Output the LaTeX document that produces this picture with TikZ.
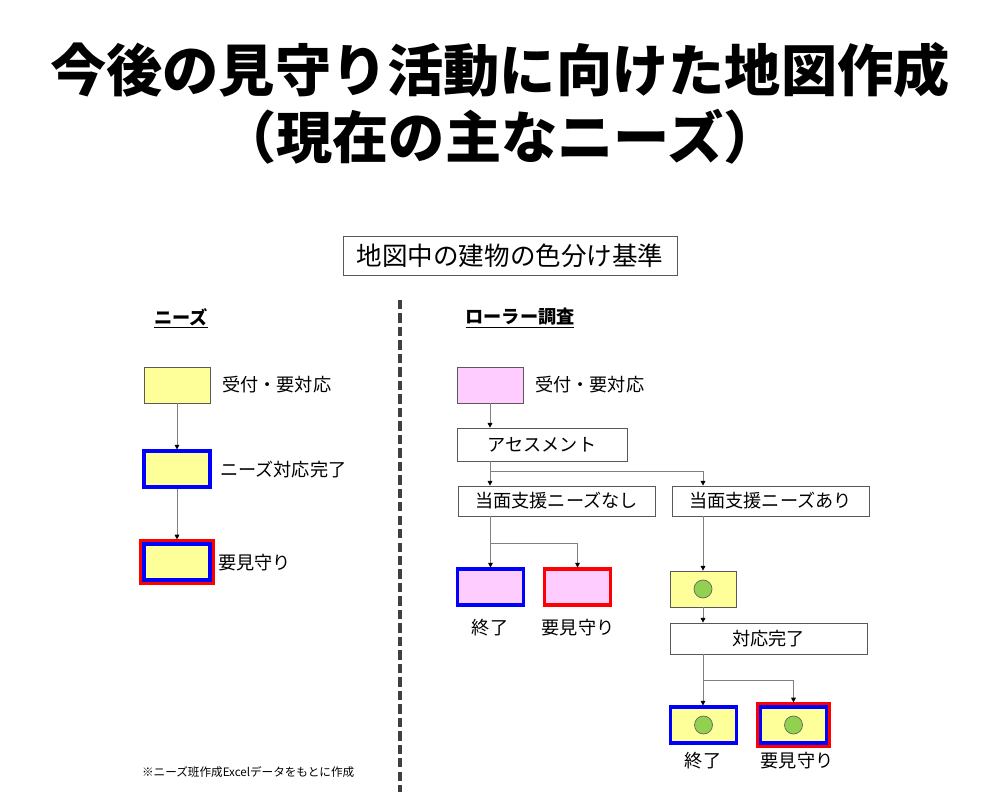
\documentclass[tikz,border=0pt]{standalone}
\usepackage{fontspec}
\setmainfont{Noto Sans CJK JP}
\usetikzlibrary{arrows.meta,positioning}

\definecolor{boxyellow}{RGB}{255,255,153}
\definecolor{boxpink}{RGB}{255,204,255}
\definecolor{dotgreen}{RGB}{146,208,80}
\newcommand{\lblfont}{\fontsize{15.5}{18}\selectfont}
\newcommand{\hdfont}{\fontsize{15.5}{18}\selectfont\bfseries}

\begin{document}
\begin{tikzpicture}[x=0.03cm, y=-0.03cm,
    box/.style={rectangle, draw=gray!70!black, line width=0.6pt, fill=#1, minimum width=1.98cm, minimum height=1.08cm, inner sep=0pt},
    done box/.style={box=#1, draw=blue, line width=2.6pt},
    watch box/.style={box=#1, draw=red, line width=2.6pt},
    watch done box/.style={box=#1, draw=blue, line width=2.6pt, preaction={draw=red, line width=7.8pt}, outer sep=3.9pt},
    stage box/.style={rectangle, draw=gray!70!black, line width=0.6pt, fill=white, minimum width=#1, inner sep=0pt, font=\lblfont},
    dot/.style={circle, draw=black!60, line width=0.6pt, fill=dotgreen, minimum size=0.54cm, inner sep=0pt},
    label text/.style={font=\lblfont, inner sep=0pt},
    arrow/.style={-{Triangle[length=4pt,width=4pt,color=black]}, gray, line width=0.7pt},
    split/.style={gray, line width=0.7pt}
]

\fill[white] (0,0) rectangle (1000,792);
\useasboundingbox (0,0) rectangle (1000,792);

% Title
\node[font=\fontsize{48}{56}\selectfont\bfseries] (title1) at (500,70) {今後の見守り活動に向けた地図作成};
\node[font=\fontsize{48}{56}\selectfont\bfseries] (title2) at (500,137) {（現在の主なニーズ）};

% Legend title
\node[draw=gray!70!black, line width=0.8pt, minimum width=10.02cm, minimum height=1.17cm,
      font=\fontsize{21.8}{26}\selectfont] (legend) at (510,256) {地図中の建物の色分け基準};

% Divider
\draw[gray!50!black, line width=2.6pt, dash pattern=on 8pt off 3.5pt] (400,300) -- (400,792);

% Needs
\node[font=\hdfont] (needs) at (181,318) {\underline{ニーズ}};
\node[box=boxyellow] (n1) at (177,385) {};
\node[done box=boxyellow] (n2) at (177,469) {};
\node[watch done box=boxyellow] (n3) at (177,562) {};
\node[label text, anchor=west] (n1 text) at (222,385) {受付・要対応};
\node[label text, anchor=west] (n2 text) at (220,470) {ニーズ対応完了};
\node[label text, anchor=west] (n3 text) at (218,563) {要見守り};
\draw[arrow] (n1) -- (n2);
\draw[arrow] (n2) -- (n3);

% Roller survey
\node[font=\hdfont] (survey) at (520,318) {\underline{ローラー調査}};
\node[box=boxpink] (r1) at (490,385) {};
\node[label text, anchor=west] (r1 text) at (535,385) {受付・要対応};
\node[stage box=5.1cm, minimum height=0.99cm] (assess) at (542,444.5) {アセスメント};
\node[stage box=5.91cm, minimum height=0.9cm] (none) at (556.5,501) {当面支援ニーズなし};
\node[stage box=5.91cm, minimum height=0.9cm] (need) at (770.5,501) {当面支援ニーズあり};

% No support needed
\node[done box=boxpink] (end1) at (490.5,587) {};
\node[watch box=boxpink] (watch1) at (577.5,587) {};
\node[label text] (end1 text) at (490,628) {終了};
\node[label text] (watch1 text) at (578,628) {要見守り};

% Support needed
\node[box=boxyellow] (y2) at (703,589) {};
\node[dot] (y2 dot) at (y2) {};
\node[stage box=5.91cm, minimum height=0.93cm] (done) at (768.5,638.5) {対応完了};
\node[done box=boxyellow] (end2) at (703.5,725) {};
\node[dot] (end2 dot) at (end2) {};
\node[watch done box=boxyellow] (watch2) at (793.5,725) {};
\node[dot] (watch2 dot) at (watch2) {};
\node[label text] (end2 text) at (703,761) {終了};
\node[label text] (watch2 text) at (797,761) {要見守り};

% Connections
\coordinate (split1) at (490,471);
\coordinate (split2) at (490,543);
\coordinate (split3) at (703,680);
\draw[arrow] (r1) -- (r1 |- assess.north);
\draw[arrow] (r1 |- assess.south) -- (r1 |- none.north);
\draw[arrow] (split1) -| (y2 |- need.north);
\draw[arrow] (end1 |- none.south) -- (end1);
\draw[arrow] (split2) -| (watch1);
\draw[arrow] (y2 |- need.south) -- (y2);
\draw[arrow] (y2) -- (y2 |- done.north);
\draw[arrow] (y2 |- done.south) -- (y2 |- end2.north);
\draw[arrow] (split3) -| (watch2);

% Note
\node[font=\fontsize{9.9}{12}\selectfont, anchor=west] (note) at (138,772) {※ニーズ班作成Excelデータをもとに作成};

\end{tikzpicture}
\end{document}
